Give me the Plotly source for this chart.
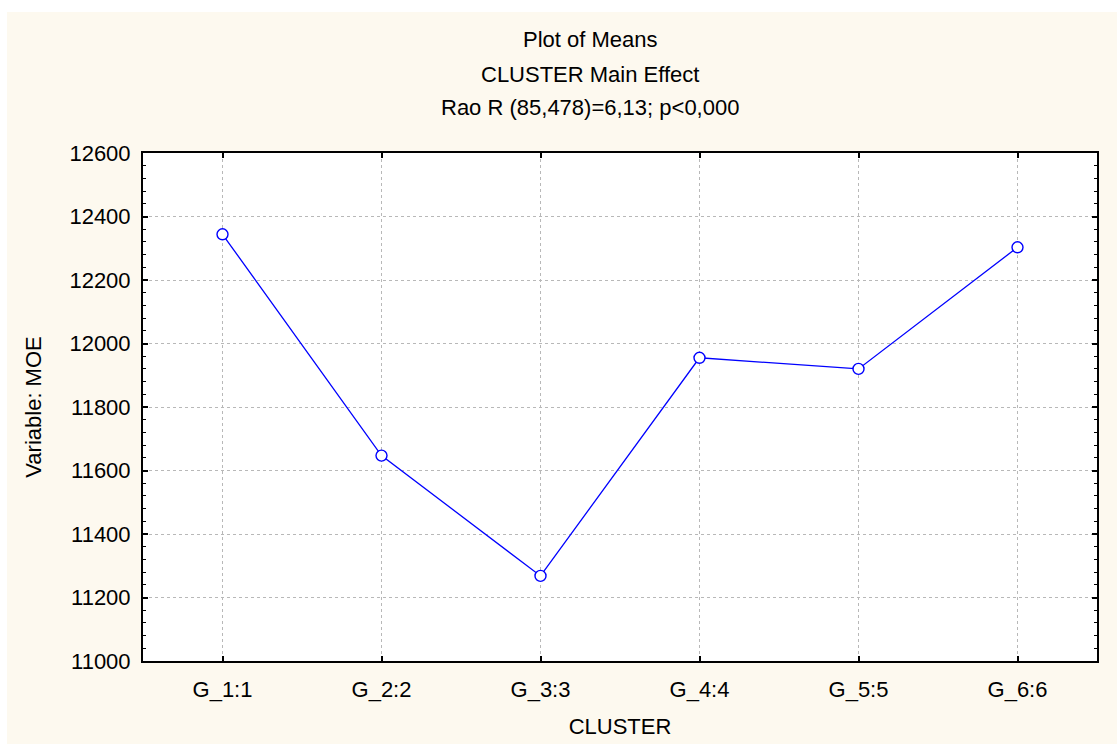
import plotly.graph_objects as go

categories = ["G_1:1", "G_2:2", "G_3:3", "G_4:4", "G_5:5", "G_6:6"]
moe_means = [12344, 11647, 11268, 11955, 11920, 12303]
y_ticks = [11000, 11200, 11400, 11600, 11800, 12000, 12200, 12400, 12600]
y_tick_labels = ["11000", "11200", "11400", "11600", "11800", "12000", "12200", "12400", "12600"]

title_lines = ["Plot of Means", "CLUSTER Main Effect", "Rao R (85,478)=6,13; p<0,000"]

W, H = 1117, 744
L, R, T, B = 143, 20, 153, 83
pw, ph = W - L - R, H - T - B
FONT = "Liberation Sans, Arial, Helvetica, sans-serif"
FS = 22
CREAM = "#FDF9EF"

fig = go.Figure()
fig.add_trace(go.Scatter(
    x=categories, y=moe_means, mode="lines+markers",
    line=dict(color="#0000FF", width=1.3),
    marker=dict(symbol="circle", size=11, color="white",
                line=dict(color="#0000FF", width=1.4)),
    showlegend=False, hoverinfo="x+y",
))

axis_common = dict(
    showline=True, linecolor="black", linewidth=2, mirror="ticks",
    ticks="inside", tickcolor="black", tickwidth=1.5, ticklen=5,
    showgrid=True, gridcolor="#B8B8B8", griddash="dot", gridwidth=1,
    zeroline=False, tickfont=dict(family=FONT, size=FS, color="black"),
    automargin=False,
)

fig.update_xaxes(
    type="category", categoryorder="array", categoryarray=categories,
    range=[-0.5, len(categories) - 0.5],
    title=dict(text="CLUSTER", font=dict(family=FONT, size=FS, color="black"), standoff=17),
    ticklabelstandoff=8,
    **axis_common,
)
fig.update_yaxes(
    range=[y_ticks[0], y_ticks[-1]], tickvals=y_ticks, ticktext=y_tick_labels,
    minor=dict(dtick=40, ticks="inside", ticklen=3, tickcolor="black", tickwidth=1.2, showgrid=False),
    title=dict(text="Variable: MOE", font=dict(family=FONT, size=FS, color="black"), standoff=22),
    ticklabelstandoff=6,
    **axis_common,
)

TITLE_X_PX = 590
annotations = []
for i, line in enumerate(title_lines):
    annotations.append(dict(
        text=line, xref="paper", yref="paper", x=(TITLE_X_PX - L) / pw,
        y=(H - B - (40 + 34 * i)) / ph, yanchor="middle", xanchor="center",
        showarrow=False, font=dict(family=FONT, size=FS, color="black"),
    ))

# white strips at top and left of the page (cream panel is inset)
shapes = [
    dict(type="rect", xref="paper", yref="paper", layer="below",
         x0=-L / pw, x1=(7 - L) / pw, y0=-B / ph - 0.01, y1=(H - B) / ph + 0.01,
         fillcolor="white", line=dict(width=0)),
    dict(type="rect", xref="paper", yref="paper", layer="below",
         x0=-L / pw, x1=(W - L) / pw + 0.01, y0=(H - B - 12) / ph, y1=(H - B) / ph + 0.01,
         fillcolor="white", line=dict(width=0)),
]

fig.update_layout(
    width=W, height=H,
    margin=dict(l=L, r=R, t=T, b=B, autoexpand=False),
    paper_bgcolor=CREAM, plot_bgcolor="white",
    font=dict(family=FONT, color="black"),
    annotations=annotations, shapes=shapes,
)

fig.write_html("out.html", config={"displayModeBar": False})
